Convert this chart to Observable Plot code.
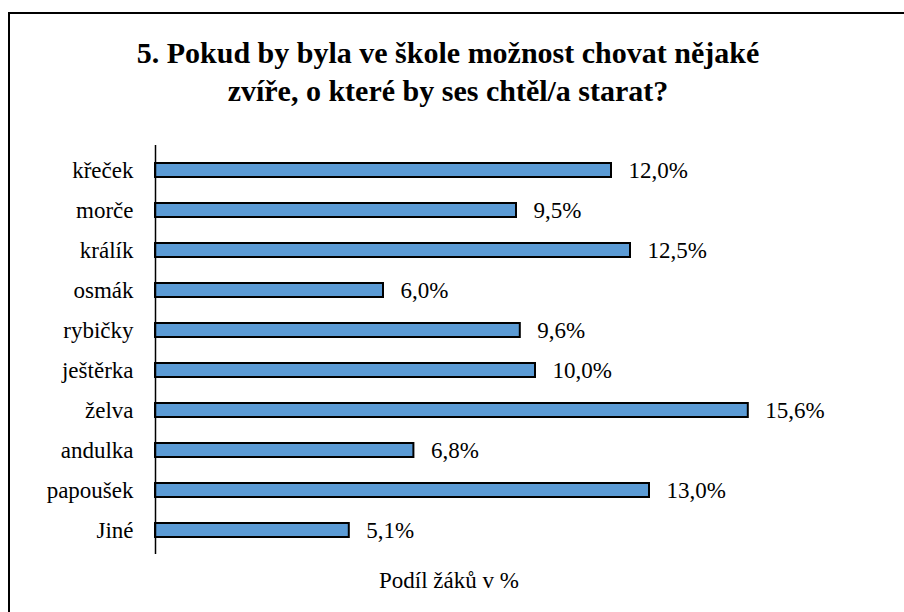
<!DOCTYPE html>
<html><head><meta charset="utf-8">
<script src="https://cdn.jsdelivr.net/npm/d3@7"></script>
<script src="https://cdn.jsdelivr.net/npm/@observablehq/plot@0.6"></script>
</head>
<body style="margin:0;background:#fff">
<div id="wrap" style="position:relative;width:904px;height:612px;overflow:hidden;background:#fff;color:#000;font-family:'Liberation Serif','DejaVu Serif',serif">
  <div style="position:absolute;left:8px;top:12px;width:1000px;height:700px;border:2px solid #000;box-sizing:border-box"></div>
  <div id="chart" style="position:absolute;left:0;top:0"></div>
  <div id="title" style="position:absolute;left:0;top:34px;width:896px;text-align:center;font-weight:bold;font-size:30px;line-height:38px;font-family:'Liberation Serif','DejaVu Serif',serif">5. Pokud by byla ve škole možnost chovat nějaké<br>zvíře, o které by ses chtěl/a starat?</div>
  <div id="xlabel" style="position:absolute;left:0;top:569px;width:898px;text-align:center;font-size:23px;line-height:23px;font-family:'Liberation Serif','DejaVu Serif',serif">Podíl žáků v %</div>
</div>
<script>
const categories = ["křeček", "morče", "králík", "osmák", "rybičky", "ještěrka", "želva", "andulka", "papoušek", "Jiné"];
const values = [12.0, 9.5, 12.5, 6.0, 9.6, 10.0, 15.6, 6.8, 13.0, 5.1];
const valueLabels = ["12,0%", "9,5%", "12,5%", "6,0%", "9,6%", "10,0%", "15,6%", "6,8%", "13,0%", "5,1%"];

const data = categories.map((c, i) => ({category: c, value: values[i], label: valueLabels[i]}));
const serif = "'Liberation Serif', 'DejaVu Serif', serif";

const chart = Plot.plot({
  width: 904, height: 612,
  marginLeft: 155, marginRight: 65, marginTop: 145, marginBottom: 58,
  style: {fontFamily: serif, fontSize: "23px", color: "#000", background: "transparent", overflow: "visible"},
  x: {domain: [0, 18], axis: null},
  y: {domain: categories, paddingInner: 0.66, paddingOuter: 0.33, label: null, tickSize: 0, tickPadding: 22},
  marks: [
    Plot.barX(data, {x: "value", y: "category", fill: "#5B9BD5", stroke: "#000", strokeWidth: 2}),
    Plot.ruleX([0], {stroke: "#000", strokeWidth: 1.5}),
    Plot.text(data, {x: "value", y: "category", text: "label", textAnchor: "start", dx: 17, fill: "#000", fontSize: 23})
  ]
});
d3.select(chart).selectAll("text, g").style("font-family", serif);
document.getElementById("chart").appendChild(chart);
</script>
</body></html>
